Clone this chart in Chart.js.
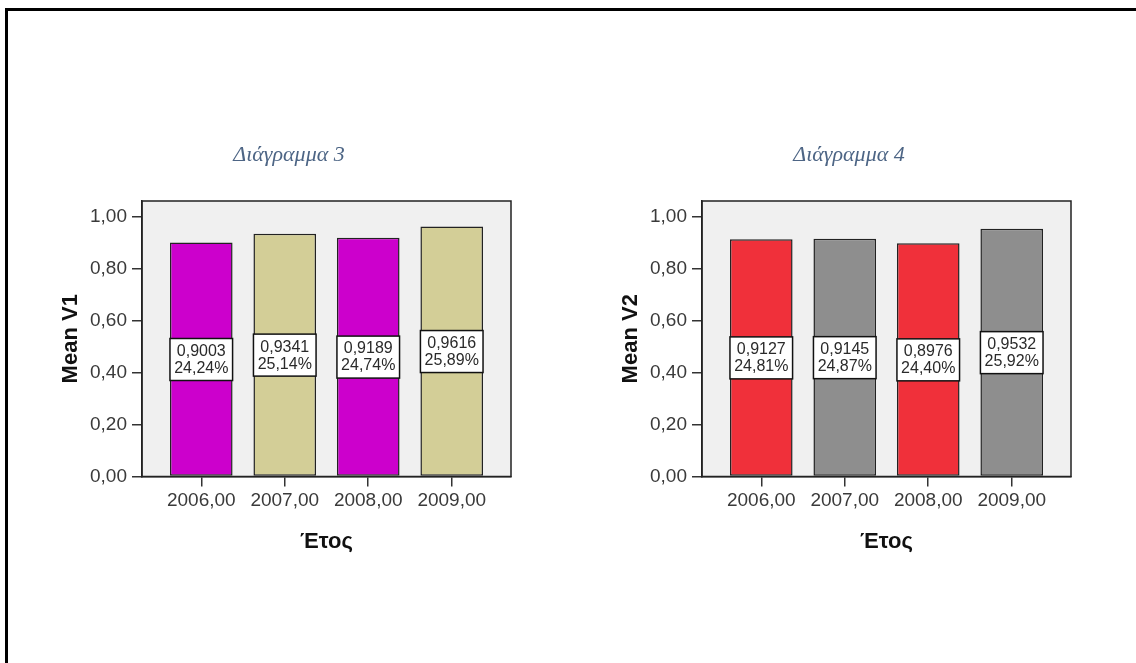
<!DOCTYPE html>
<html>
<head>
<meta charset="utf-8">
<script src="https://cdn.jsdelivr.net/npm/chart.js@4.4.0/dist/chart.umd.min.js"></script>
<style>
  html, body { margin: 0; padding: 0; background: #fff; overflow: hidden; }
  body { width: 1136px; height: 663px; position: relative; }
  .frame {
    position: absolute; left: 5px; top: 8px; width: 1200px; height: 700px;
    border-top: 3px solid #000; border-left: 3px solid #000;
  }
  canvas { position: absolute; top: 0; }
</style>
</head>
<body>
<div class="frame"></div>
<canvas id="chart-v1" width="568" height="663" style="left:0"></canvas>
<canvas id="chart-v2" width="568" height="663" style="left:560px"></canvas>
<script>
const years = [2006, 2007, 2008, 2009];
const meanV1 = [0.9003, 0.9341, 0.9189, 0.9616];
const pctV1 = [24.24, 25.14, 24.74, 25.89];
const meanV2 = [0.9127, 0.9145, 0.8976, 0.9532];
const pctV2 = [24.81, 24.87, 24.40, 25.92];
const yTicks = [0, 0.2, 0.4, 0.6, 0.8, 1.0];

const comma = (v, d) => v.toFixed(d).replace(".", ",");

// grey plot background + dark frame round the chart area
const plotFrame = {
  id: "plotFrame",
  beforeDraw(chart) {
    const { ctx, chartArea: a } = chart;
    ctx.save();
    ctx.fillStyle = "#f0f0f0";
    ctx.fillRect(a.left, a.top, a.right - a.left, a.bottom - a.top);
    ctx.restore();
  },
  afterDraw(chart) {
    const { ctx, chartArea: a } = chart;
    ctx.save();
    ctx.strokeStyle = "#222";
    ctx.lineWidth = 1.5;
    ctx.strokeRect(a.left, a.top, a.right - a.left, a.bottom - a.top);
    ctx.restore();
  },
};

// white boxes in the middle of each bar with mean and share
const valueBoxes = {
  id: "valueBoxes",
  afterDatasetsDraw(chart, args, opts) {
    const { ctx } = chart;
    const yScale = chart.scales.y;
    const points = chart.data.datasets[0].data;
    ctx.save();
    chart.getDatasetMeta(0).data.forEach((bar, i) => {
      const v = points[i].y;
      const cy = yScale.getPixelForValue(v / 2);
      const w = bar.width;
      const h = 42;
      ctx.fillStyle = "#fff";
      ctx.fillRect(bar.x - w / 2, cy - h / 2, w, h);
      ctx.strokeStyle = "#111";
      ctx.lineWidth = 1.5;
      ctx.strokeRect(bar.x - w / 2, cy - h / 2, w, h);
      ctx.fillStyle = "#2a2a2a";
      ctx.font = '16px "Liberation Sans"';
      ctx.textAlign = "center";
      ctx.textBaseline = "middle";
      ctx.fillText(comma(v, 4), bar.x, cy - 8);
      ctx.fillText(comma(opts.percents[i], 2) + "%", bar.x, cy + 9);
    });
    ctx.restore();
  },
};

// italic heading above the plot
const heading = {
  id: "heading",
  afterDraw(chart, args, opts) {
    const { ctx, chartArea: a } = chart;
    ctx.save();
    ctx.font = 'italic 22px "Liberation Serif"';
    ctx.fillStyle = "#4d6585";
    ctx.textAlign = "center";
    ctx.textBaseline = "middle";
    ctx.fillText(opts.text, a.left + 147, 155);
    ctx.restore();
  },
};

function makeChart(id, values, percents, colors, title, yTitle) {
  return new Chart(document.getElementById(id), {
    type: "bar",
    data: {
      datasets: [
        {
          data: years.map((yr, i) => ({ x: yr, y: values[i] })),
          backgroundColor: colors,
          borderColor: "#222",
          borderWidth: 1.5,
          borderSkipped: false,
          categoryPercentage: 1,
          barPercentage: 0.75,
        },
      ],
    },
    options: {
      responsive: false,
      animation: false,
      layout: { padding: { left: 57.8, top: 201, right: 57, bottom: 108 } },
      plugins: {
        legend: { display: false },
        tooltip: { enabled: false },
        valueBoxes: { percents },
        heading: { text: title },
      },
      scales: {
        x: {
          type: "linear",
          offset: false,
          min: 2005.29,
          max: 2009.71,
          afterBuildTicks: (axis) => {
            axis.ticks = years.map((v) => ({ value: v }));
          },
          afterFit: (axis) => {
            axis.height = 78.5;
          },
          grid: { offset: false, drawOnChartArea: false, tickLength: 10, color: "#333", lineWidth: 1.5 },
          border: { color: "#222", width: 1.5 },
          ticks: {
            padding: 3,
            color: "#3a3a3a",
            font: { family: "Liberation Sans", size: 19 },
            callback: (v) => comma(v, 2),
          },
          title: {
            display: true,
            text: "Έτος",
            padding: 0,
            color: "#111",
            font: { family: "Liberation Sans", size: 22, weight: "bold" },
          },
        },
        y: {
          min: 0,
          max: 1.06,
          afterBuildTicks: (axis) => {
            axis.ticks = yTicks.map((v) => ({ value: v }));
          },
          afterFit: (axis) => {
            axis.width = 84.2;
          },
          grid: { drawOnChartArea: false, tickLength: 10, color: "#333", lineWidth: 1.5 },
          border: { color: "#222", width: 1.5 },
          ticks: {
            padding: 5,
            color: "#3a3a3a",
            font: { family: "Liberation Sans", size: 19 },
            callback: (v) => comma(v, 2),
          },
          title: {
            display: true,
            text: yTitle,
            padding: 0,
            color: "#111",
            font: { family: "Liberation Sans", size: 22, weight: "bold" },
          },
        },
      },
    },
    plugins: [plotFrame, valueBoxes, heading],
  });
}

makeChart("chart-v1", meanV1, pctV1, ["#cc00cc", "#d3ce97", "#cc00cc", "#d3ce97"], "Διάγραμμα 3", "Mean V1");
makeChart("chart-v2", meanV2, pctV2, ["#f0303a", "#8e8e8e", "#f0303a", "#8e8e8e"], "Διάγραμμα 4", "Mean V2");
</script>
</body>
</html>
